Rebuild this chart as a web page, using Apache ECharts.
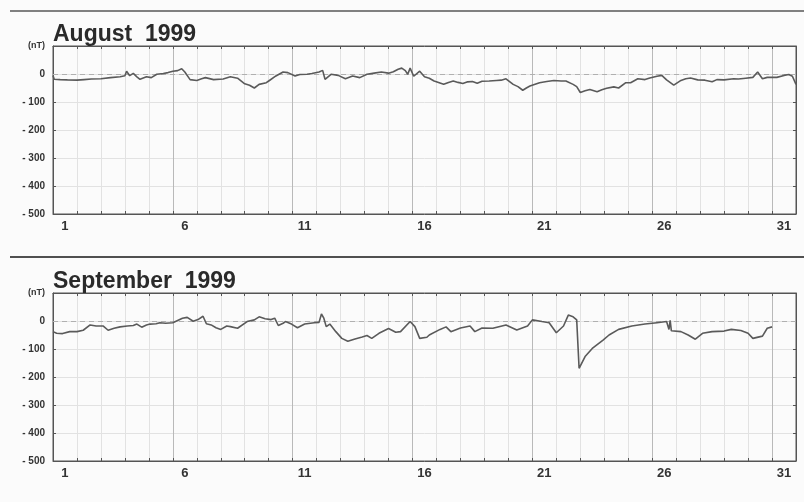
<!DOCTYPE html>
<html>
<head>
<meta charset="utf-8">
<script src="https://cdn.jsdelivr.net/npm/echarts@6/dist/echarts.min.js"></script>
<style>
html,body{margin:0;padding:0;background:#fbfbfb;}
#chart{width:804px;height:502px;}
</style>
</head>
<body>
<div id="chart"></div>
<script>
// ---- data (day offset from start of month, Dst in nT) ----
const augTime = [0.0,0.05,0.3,0.6,1.0,1.3,1.6,2.0,2.4,2.8,3.0,3.07,3.2,3.35,3.5,3.63,3.9,4.1,4.33,4.6,4.8,5.0,5.2,5.37,5.5,5.72,6.0,6.2,6.36,6.7,7.1,7.4,7.7,8.0,8.2,8.4,8.6,8.9,9.0,9.3,9.6,9.8,10.1,10.3,10.6,10.8,11.1,11.25,11.35,11.6,11.9,12.2,12.5,12.8,13.1,13.4,13.7,14.0,14.2,14.4,14.55,14.7,14.8,14.9,15.05,15.3,15.5,15.7,15.9,16.3,16.5,16.7,16.9,17.1,17.3,17.5,17.7,17.9,18.2,18.5,18.7,18.9,19.2,19.4,19.6,19.75,19.9,20.3,20.6,20.9,21.2,21.4,21.7,21.85,22.0,22.2,22.4,22.7,22.9,23.1,23.4,23.6,23.9,24.1,24.4,24.7,24.9,25.2,25.4,25.6,25.9,26.2,26.4,26.6,26.9,27.2,27.5,27.7,28.0,28.4,28.6,28.9,29.2,29.4,29.6,29.8,30.2,30.5,30.7,30.85,31.0];
const augDst = [-5,-19,-20,-21,-22,-20,-18,-17,-13,-10,-6,10,-6,2,-10,-19,-10,-13,-1,2,5,10,12,19,7,-20,-23,-17,-13,-20,-18,-10,-15,-35,-40,-50,-37,-31,-25,-7,7,5,-7,-2,-1,2,7,13,-19,-1,-5,-17,-7,-13,-1,3,7,3,8,17,21,12,-1,21,-8,10,-10,-15,-25,-37,-30,-25,-30,-34,-28,-27,-33,-26,-25,-23,-22,-17,-37,-45,-58,-50,-43,-31,-27,-23,-25,-25,-37,-45,-66,-60,-55,-63,-56,-51,-46,-50,-31,-31,-17,-20,-14,-8,-5,-21,-40,-23,-17,-14,-21,-22,-28,-20,-21,-17,-18,-15,-12,7,-17,-12,-12,-5,-2,-8,-37];

const sepTime = [0.0,0.15,0.4,0.7,1.0,1.26,1.55,1.8,2.1,2.3,2.55,2.8,3.1,3.35,3.5,3.7,3.9,4.05,4.3,4.46,4.7,5.0,5.4,5.6,5.85,6.05,6.26,6.4,6.6,6.8,7.0,7.25,7.4,7.7,8.1,8.4,8.6,8.85,9.1,9.25,9.4,9.6,9.7,9.95,10.2,10.5,10.9,11.1,11.2,11.3,11.4,11.55,11.8,12.05,12.3,12.6,12.9,13.1,13.3,13.6,14.0,14.3,14.5,14.9,15.1,15.3,15.6,15.7,16.15,16.4,16.6,17.0,17.4,17.6,17.9,18.35,18.9,19.35,19.8,20.0,20.4,20.7,21.0,21.3,21.5,21.7,21.85,21.95,22.2,22.5,22.95,23.2,23.6,24.15,24.7,25.2,25.6,25.7,25.75,25.8,26.2,26.5,26.8,27.1,27.5,28.0,28.3,28.7,29.0,29.2,29.6,29.8,30.0];
const sepDst = [-38,-44,-45,-38,-38,-33,-14,-18,-18,-33,-26,-21,-18,-16,-11,-22,-14,-11,-10,-6,-8,-6,10,13,-1,5,17,-10,-14,-24,-30,-18,-20,-26,-2,4,15,8,5,10,-16,-8,-2,-11,-24,-11,-6,-5,25,10,-20,-11,-38,-62,-72,-64,-57,-52,-62,-44,-27,-40,-38,-2,-20,-62,-58,-50,-30,-21,-38,-25,-18,-38,-25,-26,-14,-32,-18,4,-2,-6,-42,-18,21,15,4,-169,-127,-98,-68,-50,-30,-18,-11,-6,-2,-30,2,-35,-38,-50,-65,-44,-38,-36,-30,-34,-44,-62,-54,-26,-21];

const dayLabels = ['1','2','3','4','5','6','7','8','9','10','11','12','13','14','15','16','17','18','19','20','21','22','23','24','25','26','27','28','29','30','31'];
const panelTitles = ['August  1999', 'September  1999'];
const yUnit = '(nT)';

// ---- chart ----
const FONT = '"Liberation Sans", Arial, sans-serif';
const grids = [
  {left: 53, top: 46, width: 743, height: 168},
  {left: 53, top: 293, width: 743, height: 168}
];
const majorC = '#b9b9b9', minorC = '#e2e2e2';
const splitColors = [majorC, minorC, minorC, minorC, minorC];

function yFmt(v) {
  if (v === 100) return '{u|' + yUnit + '}';
  if (v === 0) return '0';
  return '- ' + Math.abs(v);
}

const xAxes = [], yAxes = [], series = [];
[augTime, sepTime].forEach((times, g) => {
  const vals = g === 0 ? augDst : sepDst;
  xAxes.push({
    type: 'value', gridIndex: g, min: 0, max: 31, interval: 1, position: 'bottom',
    axisLine: {show: true, onZero: false, lineStyle: {color: '#555', width: 1}},
    axisTick: {show: true, inside: true, length: 3, lineStyle: {color: '#555'}},
    axisLabel: {show: false},
    splitLine: {show: true, lineStyle: {color: splitColors, width: 1}}
  });
  xAxes.push({
    type: 'value', gridIndex: g, min: 0, max: 31, interval: 1, position: 'top',
    axisLine: {show: true, onZero: false, lineStyle: {color: '#555', width: 1}},
    axisTick: {show: true, inside: true, length: 3, lineStyle: {color: '#555'}},
    axisLabel: {show: false}, splitLine: {show: false}
  });
  xAxes.push({
    type: 'category', gridIndex: g, data: dayLabels, boundaryGap: true, position: 'bottom',
    axisLine: {show: false, onZero: false}, axisTick: {show: false}, splitLine: {show: false},
    axisLabel: {interval: 4, margin: 6, fontFamily: FONT, fontWeight: 'bold', fontSize: 13, color: '#333'}
  });
  yAxes.push({
    type: 'value', gridIndex: g, min: -500, max: 100, interval: 100, position: 'left',
    axisLine: {show: true, onZero: false, lineStyle: {color: '#555', width: 1}},
    axisTick: {show: true, inside: true, length: 3, lineStyle: {color: '#555'}},
    axisLabel: {formatter: yFmt, margin: 8, fontFamily: FONT, fontWeight: 'bold', fontSize: 10, color: '#333',
      rich: {u: {fontFamily: FONT, fontWeight: 'bold', fontSize: 9, color: '#333'}}},
    splitLine: {show: true, lineStyle: {color: minorC, width: 1}}
  });
  yAxes.push({
    type: 'value', gridIndex: g, min: -500, max: 100, interval: 100, position: 'right',
    axisLine: {show: true, onZero: false, lineStyle: {color: '#555', width: 1}},
    axisTick: {show: true, inside: true, length: 3, lineStyle: {color: '#555'}},
    axisLabel: {show: false}, splitLine: {show: false}
  });
  series.push({
    type: 'line', xAxisIndex: g * 3, yAxisIndex: g * 2,
    data: times.map((t, i) => [t, vals[i]]),
    showSymbol: false, symbol: 'none', smooth: false,
    lineStyle: {color: '#5a5a5a', width: 1.6},
    z: 5,
    markLine: {
      silent: true, symbol: 'none', label: {show: false},
      lineStyle: {color: '#b0b0b0', type: [5, 4], width: 1},
      data: [{yAxis: 0}]
    }
  });
});

const chart = echarts.init(document.getElementById('chart'), null, {renderer: 'canvas'});
chart.setOption({
  backgroundColor: '#fbfbfb',
  animation: false,
  grid: grids.map(g => Object.assign({show: true, borderColor: '#555', borderWidth: 1, backgroundColor: 'transparent'}, g)),
  xAxis: xAxes,
  yAxis: yAxes,
  series: series,
  title: panelTitles.map((t, i) => ({
    text: t, left: 53, top: i === 0 ? 23 : 270, padding: 0,
    textStyle: {fontFamily: FONT, fontWeight: 'bold', fontSize: 23, color: '#2a2a2a'}
  })),
  graphic: [
    {type: 'line', shape: {x1: 10, y1: 11, x2: 804, y2: 11}, style: {stroke: '#808080', lineWidth: 2}},
    {type: 'line', shape: {x1: 10, y1: 257, x2: 804, y2: 257}, style: {stroke: '#505050', lineWidth: 2}}
  ]
});
</script>
</body>
</html>
